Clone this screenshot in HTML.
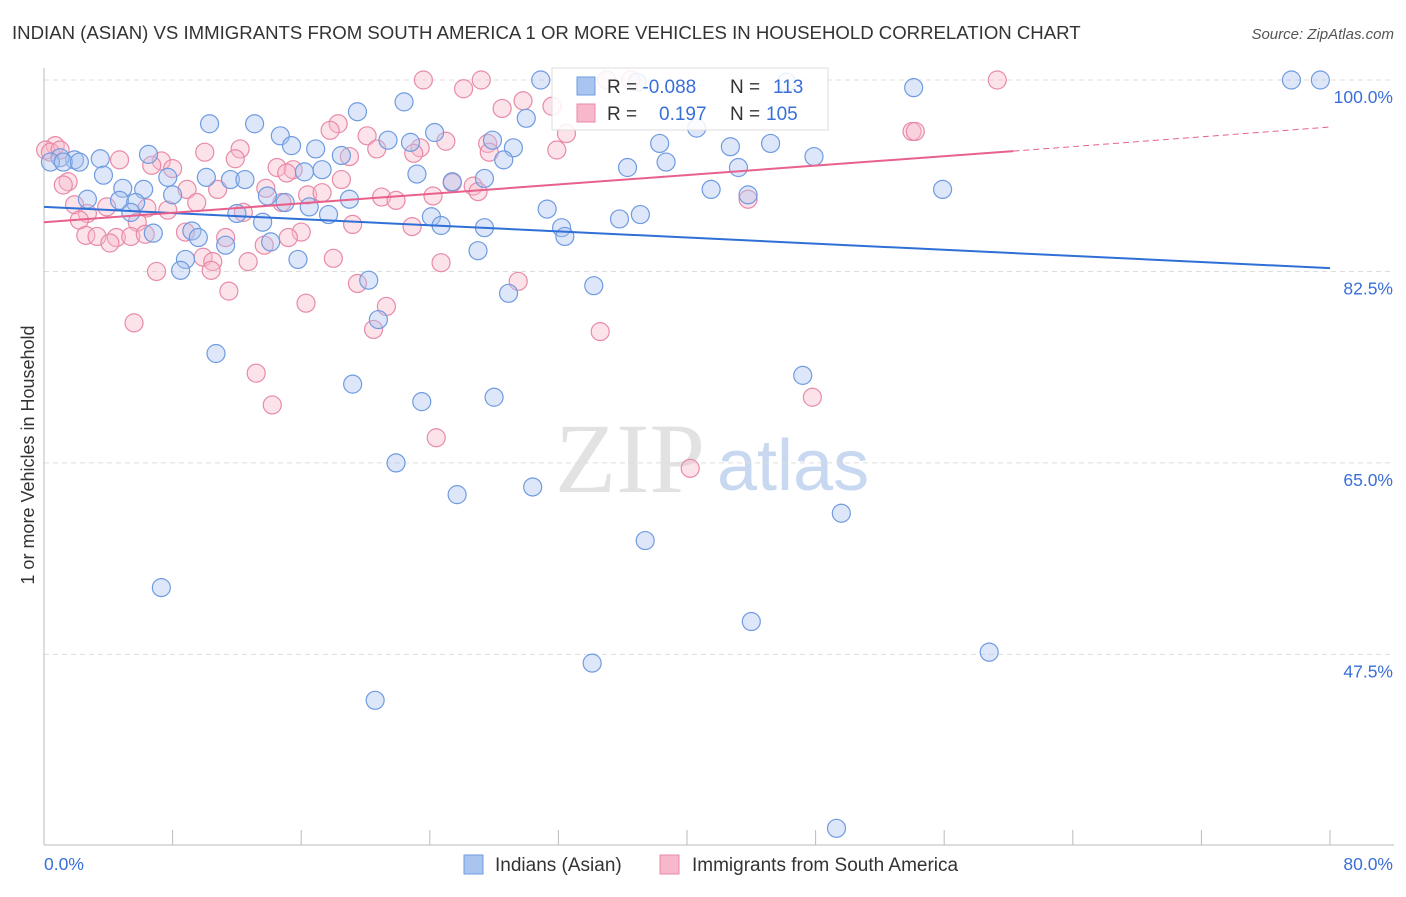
<!DOCTYPE html>
<html><head><meta charset="utf-8"><style>
body{margin:0;background:#fff;font-family:"Liberation Sans",sans-serif;}
svg text{font-family:"Liberation Sans",sans-serif;}
</style></head><body>
<svg id="chart" width="1406" height="892">
<text x="12" y="39" font-size="18.6" fill="#333">INDIAN (ASIAN) VS IMMIGRANTS FROM SOUTH AMERICA 1 OR MORE VEHICLES IN HOUSEHOLD CORRELATION CHART</text>
<text x="1394" y="39" font-size="15" fill="#555" text-anchor="end" font-style="italic">Source: ZipAtlas.com</text>
<text transform="translate(34,455) rotate(-90)" font-size="18" fill="#333" text-anchor="middle">1 or more Vehicles in Household</text>
<g><text x="555" y="492" font-size="100" fill="#e2e2e2" font-family="Liberation Serif" style="font-family:'Liberation Serif',serif">ZIP</text><text x="717" y="490" font-size="72" fill="#c8d8f0">atlas</text></g>
<g id="grid"></g><g id="axes"></g><g id="marks"></g>
<g>
<rect x="552" y="68" width="276" height="62" fill="#fff" fill-opacity="0.85" stroke="#ddd"/>
<rect x="577" y="77" width="18" height="18" fill="#a9c4ef" stroke="#6f9be0"/>
<rect x="577" y="104" width="18" height="18" fill="#f7b8cb" stroke="#e88aa8"/>
<text x="607" y="93" font-size="19" fill="#333">R = <tspan fill="#3a6fd8">-0.088</tspan><tspan x="730">N = </tspan><tspan x="773" fill="#3a6fd8">113</tspan></text>
<text x="607" y="120" font-size="19" fill="#333">R = <tspan x="659" fill="#3a6fd8">0.197</tspan><tspan x="730">N = </tspan><tspan x="766" fill="#3a6fd8">105</tspan></text>
</g>
<g>
<rect x="464" y="855" width="19" height="19" fill="#a9c4ef" stroke="#6f9be0"/>
<text x="495" y="871" font-size="19" fill="#333">Indians (Asian)</text>
<rect x="660" y="855" width="19" height="19" fill="#f7b8cb" stroke="#e88aa8"/>
<text x="692" y="871" font-size="19" fill="#333">Immigrants from South America</text>
</g>
</svg>
<script>
const blueX=[30.9,77.6,79.4,54.1,22.4,19.5,30.0,10.3,13.1,24.3,14.7,21.4,27.9,15.4,45.2,38.3,42.7,22.8,29.2,16.9,6.5,3.5,1.9,1.0,0.4,1.2,2.2,47.9,18.5,38.7,28.6,36.3,43.2,16.2,17.3,7.7,3.7,10.1,11.6,12.5,23.2,27.4,25.4,4.9,6.2,41.5,55.9,8.0,13.9,43.8,2.7,4.7,5.7,15.0,19.0,16.5,31.3,5.4,12.0,17.7,24.1,37.1,35.8,13.6,24.7,27.4,32.2,6.8,9.2,9.6,32.4,14.1,11.3,27.0,8.8,15.8,8.5,20.2,28.9,34.2,20.8,10.7,47.2,19.2,28.0,23.5,21.9,25.7,30.4,37.4,49.6,7.3,44.0,34.1,58.8,20.6,49.3,40.6,46.2,36.9];
const blueY=[100,100,100,99.3,98.0,97.1,96.5,96.0,96.0,95.2,94.9,94.5,94.5,94.0,94.2,94.2,93.9,94.3,93.8,93.7,93.2,92.8,92.7,92.9,92.5,92.5,92.5,93.0,93.1,92.5,92.7,92.0,92.0,91.6,91.8,91.1,91.3,91.1,90.9,90.9,91.4,91.0,90.7,90.1,90.0,90.0,90.0,89.5,89.4,89.5,89.1,89.0,88.8,88.8,89.1,88.4,88.2,87.9,87.8,87.7,87.5,87.7,87.3,87.0,86.7,86.5,86.5,86.0,86.2,85.6,85.7,85.2,84.9,84.4,83.6,83.6,82.6,81.7,80.5,81.2,78.1,75.0,73.0,72.2,71.0,70.6,65.0,62.1,62.8,57.9,60.4,53.6,50.5,46.7,47.7,43.3,31.6,95.6,99.8,99.8];
const pinkX=[23.6,27.2,59.3,26.1,29.8,28.5,31.6,18.3,17.8,20.1,54.0,54.2,32.5,25.0,27.6,0.7,0.1,12.2,20.7,23.4,27.7,31.9,10.0,23.0,19.0,4.7,7.3,11.9,6.7,8.0,14.5,15.5,15.1,1.5,1.2,18.5,25.4,26.7,13.8,10.8,8.9,16.4,17.3,21.0,21.9,24.2,27.0,43.8,14.8,9.5,1.9,3.9,6.4,7.7,12.4,2.7,2.2,5.8,19.2,22.9,16.0,8.8,2.6,3.3,4.5,5.4,6.3,11.3,15.2,4.1,13.7,9.9,12.7,10.5,18.0,24.7,7.0,10.4,29.5,19.5,11.5,16.3,21.3,5.6,20.5,34.6,13.2,47.8,14.2,24.4,40.2,0.4,1.0,35.0,36.5];
const pinkY=[100,100,100,99.2,98.1,97.4,97.6,96.0,95.4,94.9,95.3,95.3,95.1,94.4,94.2,94.0,93.6,93.7,93.7,93.8,93.4,93.6,93.4,93.3,93.0,92.7,92.6,92.8,92.2,91.9,92.0,91.8,91.5,90.7,90.4,90.9,90.6,90.3,90.1,90.0,90.0,89.5,89.7,89.3,89.0,89.4,89.8,89.1,88.8,88.8,88.6,88.4,88.3,88.1,87.9,87.8,87.2,87.0,86.8,86.6,86.1,86.1,85.8,85.7,85.6,85.7,85.9,85.6,85.6,85.1,84.9,83.8,83.4,83.4,83.7,83.3,82.5,82.6,81.6,81.4,80.7,79.6,79.3,77.8,77.2,77.0,73.2,71.0,70.3,67.3,64.5,93.4,93.6,100,100];
const blueTrendX=[0,80], blueTrendY=[88.4,82.8];
const pinkTrendX=[0,60.3,80], pinkTrendY=[87.0,93.5,95.7];
const yTicks=[100,82.5,65,47.5];
const yTickLabels=["100.0%","82.5%","65.0%","47.5%"];
const xTicks=[0,8,16,24,32,40,48,56,64,72,80];

const NS="http://www.w3.org/2000/svg";
const X=v=>44+v/80*1286;
const Y=v=>80+(100-v)*10.94;
function mk(parent,tag,attrs){const e=document.createElementNS(NS,tag);for(const k in attrs)e.setAttribute(k,attrs[k]);document.getElementById(parent).appendChild(e);return e;}

yTicks.forEach((t,i)=>{
  const l=mk('grid','line',{x1:44,x2:1394,y1:Y(t),y2:Y(t),stroke:'#ddd','stroke-dasharray':'5,4'});
  
  
  const tx=mk('grid','text',{x:1393,y:Y(t)+23,'font-size':17.5,fill:'#3a6fd8','text-anchor':'end'});
  tx.textContent=yTickLabels[i];
  
  
});
let a=mk('axes','line',{x1:44,x2:44,y1:68,y2:845,stroke:'#bbb'});


a=mk('axes','line',{x1:44,x2:1394,y1:845,y2:845,stroke:'#bbb'});


xTicks.forEach(t=>{
  const l=mk('axes','line',{x1:X(t),x2:X(t),y1:830,y2:845,stroke:'#bbb'});
  
  
});
let xl=mk('axes','text',{x:44,y:870,'font-size':17.5,fill:'#3a6fd8'});xl.textContent="0.0%";


xl=mk('axes','text',{x:1393,y:870,'font-size':17.5,fill:'#3a6fd8','text-anchor':'end'});xl.textContent="80.0%";



pinkX.forEach((v,i)=>{
  const c=mk('marks','circle',{cx:X(v),cy:Y(pinkY[i]),r:9,fill:'#f7b8cb','fill-opacity':0.4,stroke:'#e88aa8','stroke-width':1.2});
  
  
});
blueX.forEach((v,i)=>{
  const c=mk('marks','circle',{cx:X(v),cy:Y(blueY[i]),r:9,fill:'#a9c4ef','fill-opacity':0.4,stroke:'#6f9be0','stroke-width':1.2});
  
  
});
let tl=mk('marks','line',{x1:X(blueTrendX[0]),y1:Y(blueTrendY[0]),x2:X(blueTrendX[1]),y2:Y(blueTrendY[1]),stroke:'#2f6fd6','stroke-width':2});


tl=mk('marks','line',{x1:X(pinkTrendX[0]),y1:Y(pinkTrendY[0]),x2:X(pinkTrendX[1]),y2:Y(pinkTrendY[1]),stroke:'#e8608c','stroke-width':2});


tl=mk('marks','line',{x1:X(pinkTrendX[1]),y1:Y(pinkTrendY[1]),x2:X(pinkTrendX[2]),y2:Y(pinkTrendY[2]),stroke:'#e8608c','stroke-width':1,'stroke-dasharray':'6,4'});


</script>
</body></html>
